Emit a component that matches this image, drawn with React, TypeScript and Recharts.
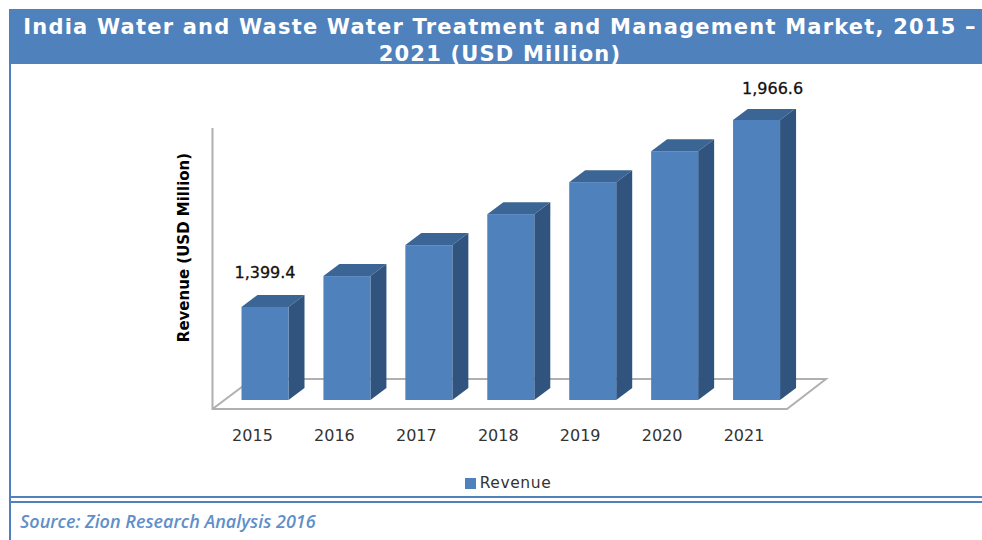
import { BarChart, Bar, XAxis, YAxis, Legend, LabelList, Label, usePlotArea } from "recharts";

const years = ["2015", "2016", "2017", "2018", "2019", "2020", "2021"];
const revenue = [1399.4, 1493, 1587, 1681, 1778, 1872, 1966.6];
const titleLines = ["India Water and Waste Water Treatment and Management Market, 2015 –", "2021 (USD Million)"];

const chartData = years.map((year, i) => ({ year, Revenue: revenue[i] }));

const BLUE = "#4f81bd";
const DEPTH_X = 16;
const DEPTH_Y = 12;

// the bars are fake 3D: front face from the scale, top and side added on
const Bar3D = ({ x, y, width, height }: any) => (
  <g>
    <polygon
      points={`${x},${y} ${x + DEPTH_X},${y - DEPTH_Y} ${x + width + DEPTH_X},${y - DEPTH_Y} ${x + width},${y}`}
      fill="#3b6595"
    />
    <polygon
      points={`${x + width},${y} ${x + width + DEPTH_X},${y - DEPTH_Y} ${x + width + DEPTH_X},${y + height - DEPTH_Y} ${x + width},${y + height}`}
      fill="#31547f"
    />
    <rect x={x} y={y} width={width} height={height} fill={BLUE} />
  </g>
);

// floor and wall line behind the bars
const Floor = () => {
  const area = usePlotArea();
  if (!area) return null;
  const left = area.x - 12;
  const right = area.x + area.width - 11;
  const bottom = area.y + area.height + 9;
  const back = bottom - 30;
  return (
    <g fill="none" stroke="#b0b0b0" strokeWidth={2}>
      <polyline points={`${left},${area.y + 19} ${left},${bottom} ${right},${bottom} ${right + 39},${back} ${left + 40},${back} ${left},${bottom}`} />
    </g>
  );
};

const EndLabel = ({ x, y, width, index, value }: any) => {
  if (index !== 0 && index !== revenue.length - 1) return null;
  const isLast = index === revenue.length - 1;
  return (
    <text
      x={x + width / 2 + (isLast ? 16 : 0)}
      y={y + (isLast ? -26 : -29)}
      textAnchor="middle"
      fontFamily="DejaVu Sans"
      fontSize={16}
      fontWeight={500}
      fill="#111"
      stroke="#111"
      strokeWidth={0.3}
    >
      {Number(value).toLocaleString("en-US", { minimumFractionDigits: 1 })}
    </text>
  );
};

export default function App() {
  return (
    <div style={{ position: "absolute", left: 0, top: 0, width: 982, height: 540, background: "#fff", overflow: "hidden" }}>
      <div style={{ position: "absolute", left: 9, top: 9, width: 2, height: 531, background: BLUE }} />
      <div
        style={{
          position: "absolute",
          left: 9,
          top: 9,
          width: 973,
          height: 55,
          background: BLUE,
          color: "#fff",
          textAlign: "center",
          fontFamily: "DejaVu Sans",
          fontWeight: 700,
          fontSize: 21,
          letterSpacing: 1.2,
          lineHeight: "27px",
          paddingTop: 5,
          paddingLeft: 9,
          boxSizing: "border-box",
        }}
      >
        {titleLines.map((line) => (
          <div key={line} style={{ whiteSpace: "nowrap" }}>{line}</div>
        ))}
      </div>
      <BarChart width={982} height={540} data={chartData} margin={{ top: 109, right: 184, bottom: 80, left: 184.5 }}>
        <Floor />
        <XAxis dataKey="year" height={60} axisLine={false} tickLine={false} tickMargin={24} interval={0} tick={{ dx: -13, fontFamily: "DejaVu Sans", fontSize: 16, fill: "#333" }} />
        <YAxis width={40} domain={[1117, 2000]} allowDataOverflow axisLine={false} tickLine={false} tick={false}>
          <Label
            value="Revenue (USD Million)"
            angle={-90}
            position="insideLeft"
            dx={-6}
            dy={-7}
            style={{ fontFamily: "DejaVu Sans", fontWeight: 700, fontSize: 15, fill: "#000", textAnchor: "middle" }}
          />
        </YAxis>
        <Legend
          layout="horizontal"
          verticalAlign="middle"
          align="center"
          iconType="square"
          iconSize={11}
          wrapperStyle={{ left: 458, top: 474, width: 110, height: 24, fontFamily: "DejaVu Sans", fontSize: 15.5, letterSpacing: 0.6 }}
          formatter={(v: string) => <span style={{ color: "#333" }}>{v}</span>}
        />
        <Bar dataKey="Revenue" fill={BLUE} barSize={47} shape={<Bar3D />} isAnimationActive={false}>
          <LabelList dataKey="Revenue" content={<EndLabel />} />
        </Bar>
      </BarChart>
      <div style={{ position: "absolute", left: 9, top: 496, width: 973, height: 2, background: BLUE }} />
      <div style={{ position: "absolute", left: 9, top: 501, width: 973, height: 2, background: BLUE }} />
      <div
        style={{
          position: "absolute",
          left: 20,
          top: 509,
          fontFamily: "Open Sans",
          fontStyle: "italic",
          fontWeight: 600,
          fontSize: 18,
          color: "#5f8fc9",
          whiteSpace: "nowrap",
        }}
      >
        Source: Zion Research Analysis 2016
      </div>
    </div>
  );
}
